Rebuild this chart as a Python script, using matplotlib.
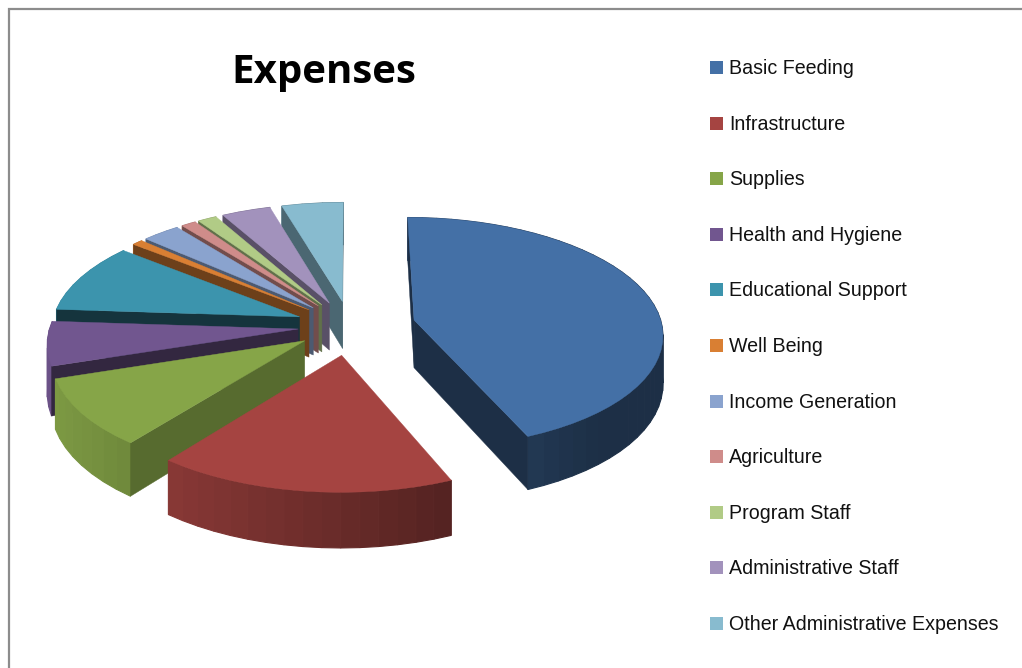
import numpy as np
import matplotlib
matplotlib.use('Agg')
import matplotlib.pyplot as plt
from matplotlib.colors import to_rgb
from matplotlib.patches import Polygon, Rectangle

#######################################
#      data                           #
#######################################
labels = ['Basic Feeding', 'Infrastructure', 'Supplies', 'Health and Hygiene',
          'Educational Support', 'Well Being', 'Income Generation', 'Agriculture',
          'Program Staff', 'Administrative Staff', 'Other Administrative Expenses']
values = [43.6, 16.9, 9.4, 6.1, 9.7, 0.8, 2.8, 1.1, 1.4, 3.6, 4.5]

colors = ['#4470A6', '#A54441', '#86A548', '#71568F', '#3C94AD', '#D97F33',
          '#8AA3CE', '#CF8C8A', '#B1CB86', '#A292BC', '#88BBCF']
explode = [0.265, 0.25, 0.22, 0.21, 0.22, 0.22, 0.22, 0.22, 0.22, 0.22, 0.22]
edge_dark = [0.42, 0.6, 0.65, 0.45, 0.35, 0.5, 0.55, 0.55, 0.55, 0.55, 0.55]

#######################################
#      pie geometry                   #
#######################################
cx, cy = 350, 326
rx, ry = 248, 115
persp = 0.11
depth = 48


def project(u, v, drop=0.0):
    # ground plane to screen, the front of the pie comes closer
    s = 1 / (1 - persp * v)
    return cx + u * rx * s, cy + v * ry * s + drop * s


def shade(col, f):
    return tuple(c * f for c in to_rgb(col))


fig = plt.figure(figsize=(10.22, 6.68), dpi=100)
ax = fig.add_axes([0, 0, 1, 1])
ax.set_xlim(0, 1022)
ax.set_ylim(668, 0)
ax.axis('off')

# chart border, only top and left are in the picture
ax.plot([9, 9, 1022], [668, 9, 9], color='#8c8c8c', lw=1.6, solid_joinstyle='miter')

edges = np.cumsum([0] + values) / sum(values) * 2 * np.pi

# back slices first, the last ones cover them
for i in range(len(values) - 1, -1, -1):
    a0, a1 = edges[i], edges[i + 1]
    mid = (a0 + a1) / 2
    ou, ov = explode[i] * np.sin(mid), -explode[i] * np.cos(mid)
    t = np.linspace(a0, a1, max(int((a1 - a0) * 16), 4))
    us, vs = ou + np.sin(t), ov - np.cos(t)

    ###### outer wall, strips get darker to the right ######
    for j in range(len(t) - 1):
        f = np.clip(0.63 - 0.32 * np.sin((t[j] + t[j + 1]) / 2), 0.42, 0.95)
        p = [project(us[j], vs[j]), project(us[j + 1], vs[j + 1]),
             project(us[j + 1], vs[j + 1], depth), project(us[j], vs[j], depth)]
        c = shade(colors[i], f)
        ax.add_patch(Polygon(p, closed=True, fc=c, ec=c, lw=0.8))

    ###### radial side walls, only the ones facing the viewer ######
    for a, facing in ((a0, -np.sin(a0)), (a1, np.sin(a1))):
        if facing < -1e-9:
            continue
        p = [project(ou, ov), project(ou + np.sin(a), ov - np.cos(a)),
             project(ou + np.sin(a), ov - np.cos(a), depth), project(ou, ov, depth)]
        c = shade(colors[i], edge_dark[i])
        ax.add_patch(Polygon(p, closed=True, fc=c, ec=c, lw=0.3))

    ###### top face ######
    top = [project(ou, ov)] + [project(a, b) for a, b in zip(us, vs)]
    ax.add_patch(Polygon(top, closed=True, fc=colors[i], ec=colors[i], lw=0.3))

#######################################
#      title and legend               #
#######################################
ax.text(324, 73, 'Expenses', family='Open Sans', weight='bold', fontsize=29,
        ha='center', va='center', color='black')

for i, name in enumerate(labels):
    y = 67.5 + i * 55.6
    ax.add_patch(Rectangle((710, y - 6.5), 13, 13, fc=colors[i], ec='none'))
    ax.text(729, y + 1, name, family='Liberation Sans', fontsize=14.1, ha='left',
            va='center', color='#111111')

fig.savefig('out.png', dpi=100)
